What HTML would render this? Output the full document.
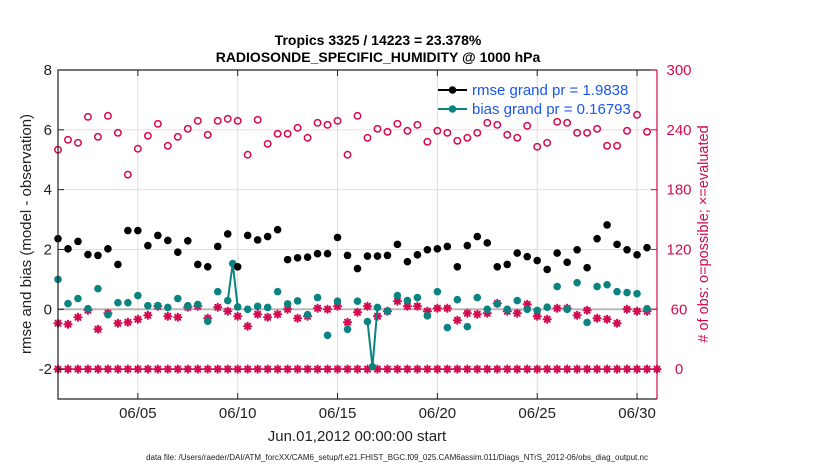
<!DOCTYPE html>
<html><head><meta charset="utf-8"><style>
html,body{margin:0;padding:0;background:#fff;}
svg{display:block;font-family:"Liberation Sans",Arial,sans-serif;}
</style></head><body>
<svg id="chart" width="830" height="470" viewBox="0 0 830 470">
<text x="378" y="45" text-anchor="middle" font-size="14" font-weight="bold">Tropics 3325 / 14223 = 23.378%</text>
<text x="378" y="62" text-anchor="middle" font-size="14" font-weight="bold">RADIOSONDE_SPECIFIC_HUMIDITY @ 1000 hPa</text>
<g id="grid"></g>
<g id="marks"></g>
<g id="axes"></g>
<text transform="translate(31,234) rotate(-90)" text-anchor="middle" font-size="15" fill="#222">rmse and bias (model - observation)</text>
<text transform="translate(708,234) rotate(-90)" text-anchor="middle" font-size="14.5" fill="#d4094f"># of obs: o=possible; ×=evaluated</text>
<text x="357" y="441" text-anchor="middle" font-size="15" fill="#222">Jun.01,2012 00:00:00 start</text>
<text x="397" y="460" text-anchor="middle" font-size="8" fill="#222">data file: /Users/raeder/DAI/ATM_forcXX/CAM6_setup/f.e21.FHIST_BGC.f09_025.CAM6assim.011/Diags_NTrS_2012-06/obs_diag_output.nc</text>
<g id="legend"></g>
</svg>
<script>
// ---- data (time index in half-day steps from Jun 01 00:00) ----
const possible = [220,230,227,253,233,254,237,195,221,234,246,224,233,241,249,235,249,251,249,215,250,226,236,236,242,232,247,245,249,215,254,232,241,238,246,239,245,228,239,237,229,232,237,247,245,235,232,244,223,227,248,247,237,237,241,224,224,239,255,238];
const evaluated = [46,45,52,59,40,56,46,47,50,54,63,53,52,62,63,51,62,58,53,43,55,52,55,60,51,53,61,60,63,47,57,63,53,58,68,63,63,58,61,61,49,56,55,56,66,58,56,65,53,50,61,61,54,59,51,50,46,60,58,58];
const rmse = [2.36,2.02,2.27,1.83,1.80,2.02,1.50,2.63,2.63,2.13,2.47,2.30,1.91,2.29,1.50,1.42,2.10,2.52,1.42,2.47,2.32,2.43,2.66,1.66,1.72,1.74,1.86,1.86,2.40,1.80,1.36,1.78,1.78,1.80,2.17,1.59,1.82,1.99,2.02,2.10,1.42,2.13,2.43,2.22,1.42,1.50,1.88,1.76,1.63,1.33,1.88,1.57,1.99,1.39,2.36,2.82,2.17,1.99,1.82,2.06];
const bias = [1.00,0.19,0.36,0.02,0.69,-0.18,0.22,0.22,0.46,0.12,0.12,0.06,0.36,0.12,0.16,-0.40,0.59,0.29,0.08,0.00,0.10,0.06,0.59,0.18,0.28,-0.18,0.39,-0.87,0.27,-0.67,0.27,-0.41,0.06,-0.06,0.46,0.29,0.39,-0.22,0.59,-0.61,0.32,-0.58,0.39,0.00,0.18,0.00,0.29,0.00,-0.04,0.07,0.76,0.00,0.89,-0.44,0.76,0.82,0.59,0.56,0.52,0.02];
const spikeTimes = [17.5, 31.5];
const spikeBias = [1.53, -1.92];
const zeroRowCount = 61;
const xTickDays = [5,10,15,20,25,30];
const xTickLabels = ["06/05","06/10","06/15","06/20","06/25","06/30"];
const leftTicks = [-2,0,2,4,6,8];
const rightTicks = [0,60,120,180,240,300];
const legendLabels = ["rmse grand pr = 1.9838","bias grand pr = 0.16793"];

// ---- scales ----
const X0=58, X1=657, YT=70, YB=399;
const xHalf = i => X0 + i*(X1-X0)/60;
const xDay = d => X0 + (d-1)*(X1-X0)/30;
const yL = v => YB - (v+3)*(YB-YT)/11;
const yR = c => yL(c/30 - 2);
const NS="http://www.w3.org/2000/svg";
function mk(tag, attrs, parent){const e=document.createElementNS(NS,tag);for(const k in attrs)e.setAttribute(k,attrs[k]);parent.appendChild(e);return e;}
const grid=document.getElementById('grid'), marks=document.getElementById('marks'), axes=document.getElementById('axes'), legend=document.getElementById('legend');
const TEAL="#0b8481", PINK="#d4094f";

xTickDays.forEach((d,k)=>{const l=mk('line',{x1:xDay(d),x2:xDay(d),y1:YT,y2:YB,stroke:'#dcdcdc','stroke-width':1},grid);

});
rightTicks.forEach(c=>{if(c===0||c===300)return;const l=mk('line',{x1:X0,x2:X1,y1:yR(c),y2:yR(c),stroke:'#f3d6df','stroke-width':1},grid);

});
const z=mk('line',{x1:X0,x2:X1,y1:yL(0),y2:yL(0),stroke:'#b8b8b8','stroke-width':2},grid);



function star(cx,cy,name){const g=mk('g',{stroke:PINK,'stroke-width':2,'stroke-linecap':'round'},marks);


const r=3.6;[[0,r],[r,0],[0.7*r,0.7*r],[0.7*r,-0.7*r]].forEach(([dx,dy])=>mk('line',{x1:cx-dx,y1:cy-dy,x2:cx+dx,y2:cy+dy},g));
mk('circle',{cx:cx,cy:cy,r:1.8,fill:PINK,stroke:'none'},g);}

const br=mk('line',{x1:X0,x2:X1,y1:yR(0),y2:yR(0),stroke:PINK,'stroke-width':1.5},marks);


for(let i=0;i<zeroRowCount;i++){star(xHalf(i),yR(0),'zero-count-marker');}

possible.forEach((c,i)=>{const e=mk('circle',{cx:xHalf(i),cy:yR(c),r:3.2,fill:'none',stroke:PINK,'stroke-width':1.5},marks);

});
evaluated.forEach((c,i)=>star(xHalf(i),yR(c),'evaluated-obs-point'));

spikeTimes.forEach((t,k)=>{const i0=Math.floor(t),i1=Math.ceil(t+0.01);
const p=mk('polyline',{points:`${xHalf(i0)},${yL(bias[i0])} ${xHalf(t)},${yL(spikeBias[k])} ${xHalf(i1)},${yL(bias[i1])}`,fill:'none',stroke:TEAL,'stroke-width':2},marks);


const c=mk('circle',{cx:xHalf(t),cy:yL(spikeBias[k]),r:3.8,fill:TEAL},marks);

});
bias.forEach((v,i)=>{const e=mk('circle',{cx:xHalf(i),cy:yL(v),r:3.8,fill:TEAL},marks);

});
rmse.forEach((v,i)=>{const e=mk('circle',{cx:xHalf(i),cy:yL(v),r:3.8,fill:'#000'},marks);

});

const lb=mk('path',{d:`M${X1},${YT} L${X0},${YT} L${X0},${YB} L${X1},${YB}`,fill:'none',stroke:'#222','stroke-width':1.2},axes);


const ra=mk('line',{x1:X1,x2:X1,y1:YT,y2:YB,stroke:PINK,'stroke-width':1.2},axes);


xTickDays.forEach((d,k)=>{mk('line',{x1:xDay(d),x2:xDay(d),y1:YB,y2:YB-6,stroke:'#222'},axes);
mk('line',{x1:xDay(d),x2:xDay(d),y1:YT,y2:YT+6,stroke:'#222'},axes);
const t=mk('text',{x:xDay(d),y:YB+19,'text-anchor':'middle','font-size':15,fill:'#222'},axes);t.textContent=xTickLabels[k];

});
leftTicks.forEach(v=>{mk('line',{x1:X0,x2:X0+6,y1:yL(v),y2:yL(v),stroke:'#222'},axes);
const t=mk('text',{x:X0-6,y:yL(v)+5,'text-anchor':'end','font-size':15,fill:'#222'},axes);t.textContent=v;

});
rightTicks.forEach(c=>{mk('line',{x1:X1,x2:X1-6,y1:yR(c),y2:yR(c),stroke:PINK},axes);
const t=mk('text',{x:X1+22,y:yR(c)+5,'text-anchor':'middle','font-size':15,fill:PINK},axes);t.textContent=c;

});

[['#000',0],[TEAL,1]].forEach(([col,k])=>{const y=90+k*19;
const g=mk('g',{},legend);


mk('line',{x1:438,x2:467,y1:y,y2:y,stroke:col,'stroke-width':2},g);
mk('circle',{cx:452.5,cy:y,r:3.8,fill:col},g);
const t=mk('text',{x:472,y:y+5,'font-size':15,fill:'#1a55f0'},g);t.textContent=legendLabels[k];});
</script>
</body></html>
